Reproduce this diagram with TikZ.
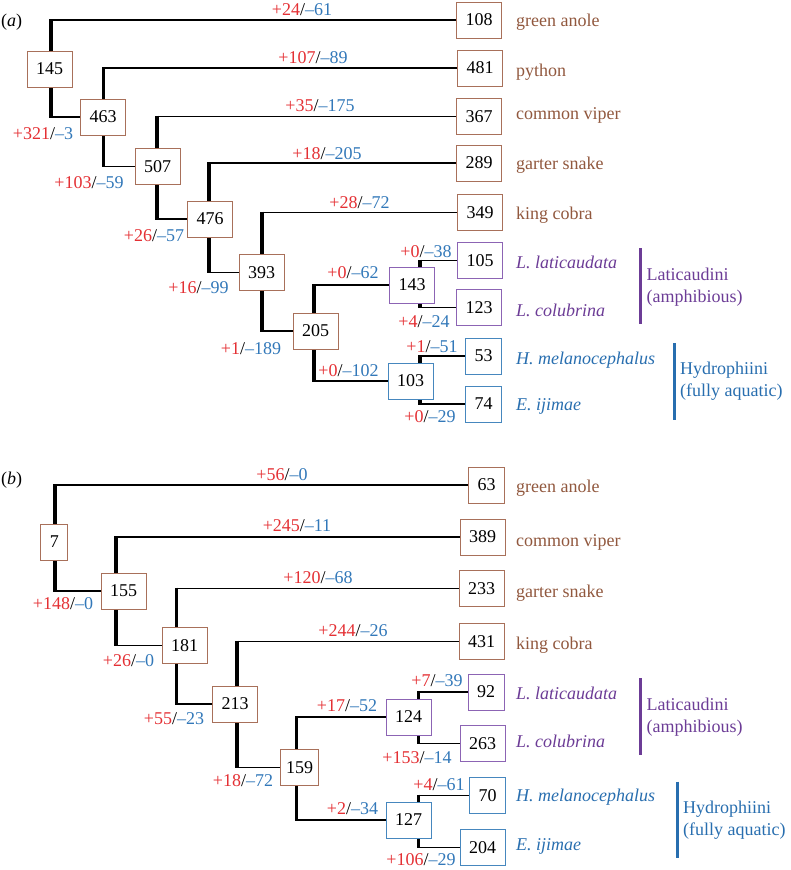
\documentclass[tikz,border=0pt]{standalone}
\usepackage{fontspec}
\setmainfont{Liberation Serif}
\usetikzlibrary{positioning, backgrounds}
\definecolor{gainred}{RGB}{228,48,52}
\definecolor{lossblue}{RGB}{50,120,185}
\definecolor{boxbrown}{RGB}{168,112,90}
\definecolor{boxpurple}{RGB}{140,100,180}
\definecolor{boxblue}{RGB}{70,135,190}
\definecolor{txtbrown}{RGB}{145,88,62}
\definecolor{txtpurple}{RGB}{108,60,150}
\definecolor{txtblue}{RGB}{40,110,175}
\newcommand{\fs}{\fontsize{18}{22}\selectfont}
\newcommand{\gainloss}[2]{\textcolor{gainred}{+#1}/\textcolor{lossblue}{--#2}}
\tikzset{
box/.style={draw, fill=white, line width=0.9pt, minimum height=36pt, inner xsep=9pt, inner ysep=0pt, font=\fs},
backbone/.style={box, draw=boxbrown},
laticlade/.style={box, draw=boxpurple},
hydroclade/.style={box, draw=boxblue},
stem/.style={line width=3.2pt, shorten <=-0.8pt, shorten >=-0.8pt},
twig/.style={line width=1.5pt},
gl/.style={anchor=base, inner sep=0pt, font=\fs},
taxon/.style={anchor=base west, inner sep=0pt, font=\fs},
group/.style={anchor=base west, inner sep=0pt, align=left, font=\fs},
groupbar/.style={line width=3.5pt},
}

\begin{document}
\begin{tikzpicture}[x=1pt, y=-1pt]
    \useasboundingbox (0,0) rectangle (790,870);

    %%%%%%%%%% panel (a)
    \node[anchor=base west, inner sep=0pt, font=\fs] (pa) at (1,26.5) {(\textit{a})};

    %leaf boxes
    \node[backbone]    (a108) at (479,20)    {108};
    \node[backbone]    (a481) at (480,68)    {481};
    \node[backbone]    (a367) at (479,116.5) {367};
    \node[backbone]    (a289) at (479,163)   {289};
    \node[backbone]    (a349) at (480,212.5) {349};
    \node[laticlade]   (a105) at (480,260.5) {105};
    \node[laticlade]   (a123) at (479,307.5) {123};
    \node[hydroclade]   (a53) at (483.5,356) {53};
    \node[hydroclade]   (a74) at (483.5,404) {74};

    %inner boxes
    \node[backbone]    (a145) at (49.5,69)   {145};
    \node[backbone]    (a463) at (103,117)   {463};
    \node[backbone]    (a507) at (157.5,166.5) {507};
    \node[backbone]    (a476) at (210,219)   {476};
    \node[backbone]    (a393) at (261.5,272.5) {393};
    \node[backbone]    (a205) at (315.5,331) {205};
    \node[laticlade]   (a143) at (412,285)   {143};
    \node[hydroclade]  (a103) at (410.5,381) {103};

    %stem positions
    \coordinate (s145) at (51,69);
    \coordinate (s463) at (103.7,117);
    \coordinate (s507) at (157,166.5);
    \coordinate (s476) at (209,219);
    \coordinate (s393) at (262,272.5);
    \coordinate (s205) at (314,331);
    \coordinate (s143) at (420,285);
    \coordinate (s103) at (420,381);

    \begin{scope}[on background layer]
    % vertical lines
    \draw[stem] (a108.west -| s145)--(a463.west -| s145);
    \draw[stem] (a481.west -| s463)--(a507.west -| s463);
    \draw[stem] (a367.west -| s507)--(a476.west -| s507);
    \draw[stem] (a289.west -| s476)--(a393.west -| s476);
    \draw[stem] (a349.west -| s393)--(a205.west -| s393);
    \draw[stem] (a143.west -| s205)--(a103.west -| s205);
    \draw[stem] (a105.west -| s143)--(a123.west -| s143);
    \draw[stem]  (a53.west -| s103)--(a74.west -| s103);

    % horizontal lines
    \draw[twig] (a108.west -| s145)--(a108.west);
    \draw[twig] (a463.west -| s145)--(a463.west);
    \draw[twig] (a481.west -| s463)--(a481.west);
    \draw[twig] (a507.west -| s463)--(a507.west);
    \draw[twig] (a367.west -| s507)--(a367.west);
    \draw[twig] (a476.west -| s507)--(a476.west);
    \draw[twig] (a289.west -| s476)--(a289.west);
    \draw[twig] (a393.west -| s476)--(a393.west);
    \draw[twig] (a349.west -| s393)--(a349.west);
    \draw[twig] (a205.west -| s393)--(a205.west);
    \draw[twig] (a143.west -| s205)--(a143.west);
    \draw[twig] (a103.west -| s205)--(a103.west);
    \draw[twig] (a105.west -| s143)--(a105.west);
    \draw[twig] (a123.west -| s143)--(a123.west);
    \draw[twig]  (a53.west -| s103)--(a53.west);
    \draw[twig]  (a74.west -| s103)--(a74.west);
    \end{scope}

    %gains and losses
    \node[gl] (ga108) at (302,15.5)  {\gainloss{24}{61}};
    \node[gl] (ga481) at (313,63.5)  {\gainloss{107}{89}};
    \node[gl] (ga367) at (320,111.5) {\gainloss{35}{175}};
    \node[gl] (ga289) at (327,159)   {\gainloss{18}{205}};
    \node[gl] (ga349) at (359.5,208) {\gainloss{28}{72}};
    \node[gl] (ga463) at (43,139)    {\gainloss{321}{3}};
    \node[gl] (ga507) at (89,188)    {\gainloss{103}{59}};
    \node[gl] (ga476) at (154,241)   {\gainloss{26}{57}};
    \node[gl] (ga393) at (198.5,293) {\gainloss{16}{99}};
    \node[gl] (ga205) at (251,354)   {\gainloss{1}{189}};
    \node[gl] (ga143) at (353,278.5) {\gainloss{0}{62}};
    \node[gl] (ga103) at (348.5,376.5) {\gainloss{0}{102}};
    \node[gl] (ga105) at (426,257)   {\gainloss{0}{38}};
    \node[gl] (ga123) at (424,327.5) {\gainloss{4}{24}};
    \node[gl]  (ga53) at (432,352.5) {\gainloss{1}{51}};
    \node[gl]  (ga74) at (430,422)   {\gainloss{0}{29}};

    %species
    \node[taxon, text=txtbrown]  (ta108) at (516,26.5) {green anole};
    \node[taxon, text=txtbrown]  (ta481) at (516,76)   {python};
    \node[taxon, text=txtbrown]  (ta367) at (516,119.5) {common viper};
    \node[taxon, text=txtbrown]  (ta289) at (516,169)  {garter snake};
    \node[taxon, text=txtbrown]  (ta349) at (516,219.5) {king cobra};
    \node[taxon, text=txtpurple] (ta105) at (516,268.5) {\textit{L. laticaudata}};
    \node[taxon, text=txtpurple] (ta123) at (516,316)  {\textit{L. colubrina}};
    \node[taxon, text=txtblue]    (ta53) at (516,364)  {\textit{H. melanocephalus}};
    \node[taxon, text=txtblue]    (ta74) at (516,410)  {\textit{E. ijimae}};

    %groups
    \draw[groupbar, txtpurple] (640.5,248)--(640.5,324);
    \node[group, text=txtpurple] (alati) at (646.5,302.7) {Laticaudini\\(amphibious)};
    \draw[groupbar, txtblue] (674.5,343)--(674.5,420);
    \node[group, text=txtblue] (ahydro) at (680,396.7) {Hydrophiini\\(fully aquatic)};

    %%%%%%%%%% panel (b)
    \node[anchor=base west, inner sep=0pt, font=\fs] (pb) at (1,484.5) {(\textit{b})};

    %leaf boxes
    \node[backbone]     (b63) at (486.5,485) {63};
    \node[backbone]    (b389) at (482.5,537) {389};
    \node[backbone]    (b233) at (481.5,588.5) {233};
    \node[backbone]    (b431) at (481.5,641.5) {431};
    \node[laticlade]    (b92) at (486,692)   {92};
    \node[laticlade]   (b263) at (482.5,743.5) {263};
    \node[hydroclade]   (b70) at (487.5,795.5) {70};
    \node[hydroclade]  (b204) at (482.5,847.5) {204};

    %inner boxes
    \node[backbone]      (b7) at (54.3,542)   {7};
    \node[backbone]    (b155) at (123.7,591)  {155};
    \node[backbone]    (b181) at (184.7,645.5) {181};
    \node[backbone]    (b213) at (235,704)    {213};
    \node[backbone, inner xsep=5.5pt] (b159) at (299.5,767.5) {159};
    \node[laticlade]   (b124) at (408.5,717)  {124};
    \node[hydroclade]  (b127) at (408.5,820)  {127};

    %stem positions
    \coordinate (s7) at (55,542);
    \coordinate (s155) at (116,591);
    \coordinate (s181) at (176.5,645.5);
    \coordinate (s213) at (237,704);
    \coordinate (s159) at (296.7,767.5);
    \coordinate (s124) at (418.3,717);
    \coordinate (s127) at (418.3,820);

    \begin{scope}[on background layer]
    % vertical lines
    \draw[stem]  (b63.west -| s7)--(b155.west -| s7);
    \draw[stem] (b389.west -| s155)--(b181.west -| s155);
    \draw[stem] (b233.west -| s181)--(b213.west -| s181);
    \draw[stem] (b431.west -| s213)--(b159.west -| s213);
    \draw[stem] (b124.west -| s159)--(b127.west -| s159);
    \draw[stem]  (b92.west -| s124)--(b263.west -| s124);
    \draw[stem]  (b70.west -| s127)--(b204.west -| s127);

    % horizontal lines
    \draw[twig]  (b63.west -| s7)--(b63.west);
    \draw[twig] (b155.west -| s7)--(b155.west);
    \draw[twig] (b389.west -| s155)--(b389.west);
    \draw[twig] (b181.west -| s155)--(b181.west);
    \draw[twig] (b233.west -| s181)--(b233.west);
    \draw[twig] (b213.west -| s181)--(b213.west);
    \draw[twig] (b431.west -| s213)--(b431.west);
    \draw[twig] (b159.west -| s213)--(b159.west);
    \draw[twig] (b124.west -| s159)--(b124.west);
    \draw[twig] (b127.west -| s159)--(b127.west);
    \draw[twig]  (b92.west -| s124)--(b92.west);
    \draw[twig] (b263.west -| s124)--(b263.west);
    \draw[twig]  (b70.west -| s127)--(b70.west);
    \draw[twig] (b204.west -| s127)--(b204.west);
    \end{scope}

    %gains and losses
    \node[gl]  (gb63) at (282,480.7)  {\gainloss{56}{0}};
    \node[gl] (gb389) at (297,531.7)  {\gainloss{245}{11}};
    \node[gl] (gb233) at (318,583)    {\gainloss{120}{68}};
    \node[gl] (gb431) at (353,636)    {\gainloss{244}{26}};
    \node[gl] (gb155) at (63,609)     {\gainloss{148}{0}};
    \node[gl] (gb181) at (128.5,666)  {\gainloss{26}{0}};
    \node[gl] (gb213) at (174,724)    {\gainloss{55}{23}};
    \node[gl] (gb159) at (243,786.7)  {\gainloss{18}{72}};
    \node[gl] (gb124) at (347,711.7)  {\gainloss{17}{52}};
    \node[gl] (gb127) at (352.5,814)  {\gainloss{2}{34}};
    \node[gl]  (gb92) at (437,686)    {\gainloss{7}{39}};
    \node[gl] (gb263) at (417,763)    {\gainloss{153}{14}};
    \node[gl]  (gb70) at (439,790.7)  {\gainloss{4}{61}};
    \node[gl] (gb204) at (421,865)    {\gainloss{106}{29}};

    %species
    \node[taxon, text=txtbrown]   (tb63) at (516,492)   {green anole};
    \node[taxon, text=txtbrown]  (tb389) at (516,546)   {common viper};
    \node[taxon, text=txtbrown]  (tb233) at (516,597.7) {garter snake};
    \node[taxon, text=txtbrown]  (tb431) at (516,649.3) {king cobra};
    \node[taxon, text=txtpurple]  (tb92) at (516,699.3) {\textit{L. laticaudata}};
    \node[taxon, text=txtpurple] (tb263) at (516,747.3) {\textit{L. colubrina}};
    \node[taxon, text=txtblue]    (tb70) at (516,801.7) {\textit{H. melanocephalus}};
    \node[taxon, text=txtblue]   (tb204) at (516,850)   {\textit{E. ijimae}};

    %groups
    \draw[groupbar, txtpurple] (640.5,678)--(640.5,755);
    \node[group, text=txtpurple] (blati) at (646.5,732.7) {Laticaudini\\(amphibious)};
    \draw[groupbar, txtblue] (677.5,781.7)--(677.5,858);
    \node[group, text=txtblue] (bhydro) at (683,835.7) {Hydrophiini\\(fully aquatic)};
\end{tikzpicture}
\end{document}
